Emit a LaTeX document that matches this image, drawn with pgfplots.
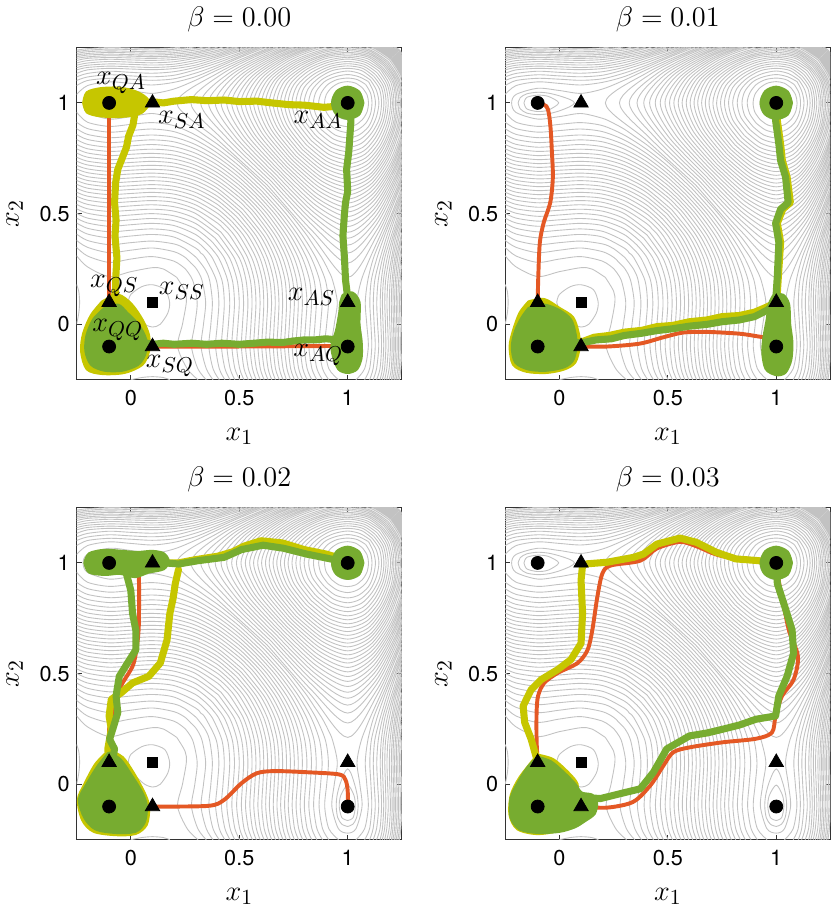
\documentclass[border=0pt]{standalone}
\usepackage{fontspec}
\usepackage{pgfplots}
\usepackage{pgfplotstable}
\pgfplotsset{compat=1.18}
\usepgfplotslibrary{groupplots}
\newfontfamily\heros{TeX Gyre Heros}
\definecolor{cor}{RGB}{228,88,36}
\definecolor{cyl}{RGB}{198,198,0}
\definecolor{cgr}{RGB}{119,172,48}
\pgfplotstableread{
x y
0.947 0.947
0.930 0.971
0.925 1
0.930 1.026
0.947 1.048
0.971 1.063
1 1.068
1.026 1.063
1.048 1.048
nan nan
0.925 0.925
0.901 0.959
0.893 1
0.901 1.037
0.925 1.068
0.959 1.089
1 1.096
1.037 1.089
1.068 1.068
nan nan
0.908 0.908
0.878 0.950
0.866 1
0.878 1.045
0.908 1.083
0.950 1.105
1 1.112
1.045 1.105
1.083 1.083
nan nan
0.893 0.893
0.855 0.942
0.842 1
0.855 1.052
0.893 1.096
0.942 1.118
1 1.128
1.052 1.118
1.096 1.096
nan nan
0.879 0.879
0.836 0.936
0.820 1
0.836 1.058
0.879 1.104
0.936 1.132
1 1.144
1.058 1.132
1.104 1.104
nan nan
0.866 0.866
0.818 0.929
0.799 1
0.818 1.064
0.866 1.112
0.929 1.146
1 1.156
1.064 1.146
1.112 1.112
nan nan
0.853 0.853
0.799 0.924
0.780 1
0.799 1.069
0.853 1.120
0.924 1.156
1 1.167
1.069 1.156
1.120 1.120
nan nan
0.842 0.842
0.783 0.919
0.761 1
0.783 1.074
0.842 1.128
0.919 1.165
1 1.177
1.074 1.165
1.128 1.128
nan nan
0.831 0.831
0.767 0.914
0.743 1
0.767 1.078
0.831 1.136
0.914 1.174
1 1.187
1.078 1.174
1.136 1.136
nan nan
0.820 0.820
0.751 0.909
0.725 1
0.751 1.082
0.820 1.144
0.909 1.183
1 1.198
1.082 1.183
1.144 1.144
nan nan
0.810 0.810
0.736 0.904
0.708 1
0.736 1.086
0.810 1.151
0.904 1.191
1 1.206
1.086 1.191
1.151 1.151
nan nan
0.799 0.799
0.721 0.899
0.690 1
0.721 1.090
0.799 1.156
0.899 1.200
1 1.213
1.090 1.200
1.156 1.156
nan nan
0.790 0.790
0.706 0.895
0.673 1
0.706 1.094
0.790 1.161
0.895 1.207
1 1.221
1.094 1.207
1.161 1.161
nan nan
0.780 0.780
0.691 0.891
0.656 1
0.691 1.097
0.780 1.167
0.891 1.213
1 1.228
1.097 1.213
1.167 1.167
nan nan
0.771 0.771
0.676 0.888
0.638 1
0.676 1.101
0.771 1.172
0.888 1.219
1 1.236
1.101 1.219
1.172 1.172
nan nan
0.761 0.761
0.661 0.884
0.621 1
0.661 1.101
0.761 1.177
0.884 1.226
1 1.243
1.101 1.226
1.177 1.177
nan nan
0.752 0.752
0.647 0.880
0.603 1
0.647 1.104
0.752 1.182
0.880 1.232
1 1.250
1.104 1.232
1.182 1.182
nan nan
0.743 0.743
0.632 0.876
0.585 1
0.632 1.106
0.743 1.187
0.876 1.238
1 1.256
1.106 1.238
1.187 1.187
nan nan
0.734 0.734
0.617 0.872
0.566 1
0.617 1.108
0.734 1.193
0.872 1.245
1 1.262
1.108 1.245
1.193 1.193
nan nan
0.725 0.725
0.602 0.868
0.548 1
0.602 1.111
0.725 1.198
0.868 1.251
1 1.267
1.111 1.251
1.198 1.198
nan nan
0.716 0.716
0.586 0.864
0.528 1
0.586 1.113
0.716 1.202
0.864 1.256
1 1.273
1.113 1.256
1.202 1.202
nan nan
0.708 0.708
0.570 0.860
0.508 1
0.570 1.115
0.708 1.206
0.860 1.260
1 1.278
1.115 1.260
1.206 1.206
nan nan
0.699 0.699
0.555 0.857
0.487 1
0.555 1.117
0.699 1.210
0.857 1.265
1 1.284
1.117 1.265
1.210 1.210
nan nan
0.690 0.690
0.538 0.853
0.465 1
0.538 1.120
0.690 1.213
0.853 1.270
1 1.290
1.120 1.270
1.213 1.213
nan nan
0.682 0.682
0.521 0.849
0.442 1
0.521 1.122
0.682 1.217
0.849 1.275
1 1.295
1.122 1.275
1.217 1.217
nan nan
0.673 0.673
0.504 0.846
0.416 1
0.504 1.124
0.673 1.221
0.846 1.280
1 1.301
1.124 1.280
1.221 1.221
nan nan
0.664 0.664
0.486 0.843
0.389 1
0.486 1.127
0.664 1.224
0.843 1.284
1 1.305
1.127 1.284
1.224 1.224
nan nan
0.656 0.656
0.467 0.840
0.358 1
0.467 1.129
0.656 1.228
0.840 1.289
1 1.310
1.129 1.289
1.228 1.228
nan nan
0.647 0.647
0.448 0.837
0.322 1
0.448 1.131
0.647 1.232
0.837 1.294
1 1.314
1.131 1.294
1.232 1.232
nan nan
0.638 0.638
0.426 0.833
0.277 1
0.426 1.134
0.638 1.236
0.833 1.299
1 1.318
1.134 1.299
1.236 1.236
nan nan
0.629 0.629
0.404 0.830
0.212 1
0.404 1.136
0.629 1.239
0.830 1.303
1 1.323
1.136 1.303
1.239 1.239
nan nan
-0.19 1
-0.18 1.024
-0.15 1.041
-0.1 1.048
-0.05 1.044
0 1.032
0.05 1.015
0.07 1
0.05 0.984
0 0.964
-0.05 0.951
-0.1 0.947
-0.15 0.954
-0.18 0.973
-0.19 1
nan nan
-0.163 1
-0.15 1.025
-0.1 1.035
-0.05 1.029
-0.003 1
-0.05 0.968
-0.1 0.961
-0.15 0.973
-0.163 1
nan nan
0.65 1.254
0.6 1.234
0.5 1.193
0.4 1.149
0.3 1.103
0.2 1.063
0.1 1.043
0 1.056
-0.1 1.066
-0.2 1.038
-0.22 1
-0.2 0.957
-0.1 0.927
0 0.938
0.1 0.952
0.2 0.930
0.25 0.908
0.3 0.881
0.35 0.847
0.4 0.813
0.45 0.774
0.5 0.733
0.55 0.688
0.6 0.641
0.621 0.621
nan nan
0.65 1.260
0.6 1.242
0.5 1.203
0.4 1.160
0.3 1.119
0.2 1.093
0.1 1.081
0 1.088
-0.1 1.095
-0.2 1.078
-0.25 1.038
nan nan
-0.25 0.958
-0.2 0.913
-0.1 0.894
0 0.903
0.1 0.911
0.2 0.897
0.3 0.854
0.4 0.792
0.5 0.715
0.6 0.624
0.612 0.612
nan nan
0.65 1.265
0.6 1.249
0.5 1.210
0.4 1.170
0.3 1.135
0.2 1.109
0.1 1.102
0 1.107
-0.1 1.111
-0.2 1.101
-0.25 1.078
nan nan
-0.25 0.913
-0.2 0.884
-0.1 0.868
0 0.875
0.1 0.882
0.2 0.870
0.3 0.832
0.4 0.773
0.5 0.697
0.603 0.603
nan nan
0.6 1.255
0.5 1.218
0.4 1.181
0.3 1.150
0.2 1.125
0.1 1.118
0 1.122
-0.1 1.127
-0.2 1.117
-0.25 1.101
nan nan
-0.25 0.884
-0.2 0.858
-0.1 0.843
0 0.849
0.1 0.855
0.2 0.845
0.3 0.811
0.4 0.755
0.5 0.680
0.594 0.594
nan nan
0.6 1.261
0.5 1.225
0.4 1.191
0.3 1.161
0.2 1.141
0.1 1.134
0 1.138
-0.1 1.143
-0.2 1.133
-0.25 1.117
nan nan
-0.25 0.858
-0.2 0.835
-0.1 0.821
0 0.827
0.1 0.833
0.2 0.824
0.3 0.791
0.4 0.737
0.5 0.663
0.585 0.585
nan nan
0.6 1.266
0.5 1.233
0.4 1.201
0.3 1.171
0.2 1.155
0.1 1.150
0 1.153
-0.1 1.156
-0.2 1.149
-0.25 1.133
nan nan
-0.25 0.835
-0.2 0.813
-0.1 0.800
0 0.806
0.1 0.812
0.2 0.802
0.3 0.772
0.4 0.719
0.5 0.645
0.576 0.576
nan nan
0.6 1.272
0.5 1.240
0.4 1.209
0.3 1.182
0.2 1.165
0.1 1.160
0 1.163
-0.1 1.166
-0.2 1.160
-0.25 1.149
nan nan
-0.25 0.813
-0.2 0.793
-0.1 0.781
0 0.786
0.1 0.791
0.2 0.783
0.3 0.753
0.4 0.701
0.5 0.628
0.566 0.566
nan nan
0.6 1.277
0.5 1.247
0.4 1.216
0.3 1.192
0.2 1.175
0.1 1.171
0 1.174
-0.1 1.176
-0.2 1.170
-0.25 1.159
nan nan
-0.25 0.793
-0.2 0.774
-0.1 0.762
0 0.768
0.1 0.772
0.2 0.764
0.3 0.735
0.4 0.684
0.5 0.610
0.557 0.557
nan nan
0.5 1.254
0.4 1.223
0.3 1.202
0.2 1.186
0.1 1.181
0 1.184
-0.1 1.187
-0.2 1.180
-0.25 1.170
nan nan
-0.25 0.774
-0.2 0.755
-0.1 0.744
0 0.749
0.1 0.754
0.2 0.746
0.3 0.718
0.4 0.667
0.5 0.592
0.548 0.548
nan nan
0.5 1.259
0.4 1.231
0.3 1.209
0.2 1.196
0.1 1.192
0 1.194
-0.1 1.197
-0.2 1.191
-0.25 1.180
nan nan
-0.25 0.755
-0.2 0.737
-0.1 0.726
0 0.731
0.1 0.736
0.2 0.728
0.3 0.700
0.4 0.649
0.5 0.574
0.538 0.538
nan nan
0.5 1.265
0.4 1.238
0.3 1.217
0.2 1.205
0.1 1.201
0 1.203
-0.1 1.205
-0.2 1.201
-0.25 1.191
nan nan
-0.25 0.737
-0.2 0.720
-0.1 0.709
0 0.714
0.1 0.718
0.2 0.711
0.3 0.683
0.4 0.632
0.5 0.556
0.528 0.528
nan nan
0.5 1.271
0.4 1.246
0.3 1.224
0.2 1.212
0.1 1.209
0 1.211
-0.1 1.213
-0.2 1.208
-0.25 1.201
nan nan
-0.25 0.718
-0.2 0.702
-0.1 0.691
0 0.696
0.1 0.700
0.2 0.693
0.3 0.665
0.4 0.614
0.518 0.518
nan nan
0.4 1.252
0.3 1.231
0.2 1.220
0.1 1.216
0 1.218
-0.1 1.220
-0.2 1.216
-0.25 1.208
nan nan
-0.25 0.702
-0.2 0.685
-0.1 0.674
0 0.679
0.1 0.683
0.2 0.675
0.3 0.648
0.4 0.597
0.508 0.508
nan nan
0.4 1.258
0.3 1.239
0.2 1.227
0.1 1.224
0 1.226
-0.1 1.228
-0.2 1.223
-0.25 1.216
nan nan
-0.25 0.685
-0.2 0.667
-0.1 0.657
0 0.661
0.1 0.666
0.2 0.658
0.3 0.630
0.4 0.578
0.498 0.498
nan nan
0.4 1.264
0.3 1.246
0.2 1.235
0.1 1.231
0 1.233
-0.1 1.235
-0.2 1.231
-0.25 1.223
nan nan
-0.25 0.667
-0.2 0.650
-0.1 0.639
0 0.644
0.1 0.649
0.2 0.641
0.3 0.613
0.4 0.560
0.487 0.487
nan nan
0.3 1.253
0.2 1.242
0.1 1.239
0 1.241
-0.1 1.243
-0.2 1.238
-0.25 1.231
nan nan
-0.25 0.650
-0.2 0.633
-0.1 0.622
0 0.626
0.1 0.631
0.2 0.623
0.3 0.595
0.4 0.541
0.476 0.476
nan nan
0.3 1.258
0.2 1.249
0.1 1.246
0 1.248
-0.1 1.250
-0.2 1.245
-0.25 1.238
nan nan
-0.25 0.633
-0.2 0.615
-0.1 0.604
0 0.609
0.1 0.613
0.2 0.606
0.3 0.577
0.4 0.521
0.465 0.465
nan nan
-0.25 0.615
-0.2 0.597
-0.1 0.586
0 0.591
0.1 0.596
0.2 0.588
0.3 0.558
0.4 0.501
0.454 0.454
nan nan
-0.25 0.597
-0.2 0.579
-0.1 0.567
0 0.572
0.1 0.577
0.2 0.569
0.3 0.539
0.4 0.479
0.442 0.442
nan nan
-0.25 0.579
-0.2 0.561
-0.1 0.549
0 0.554
0.1 0.559
0.2 0.551
0.3 0.519
0.4 0.457
0.429 0.429
nan nan
-0.25 0.561
-0.2 0.542
-0.1 0.529
0 0.535
0.1 0.540
0.2 0.531
0.3 0.500
0.416 0.416
nan nan
-0.25 0.542
-0.2 0.522
-0.1 0.510
0 0.515
0.1 0.520
0.2 0.511
0.3 0.477
0.404 0.404
nan nan
-0.25 0.522
-0.2 0.502
-0.1 0.488
0 0.494
0.1 0.500
0.2 0.490
0.3 0.455
0.389 0.389
nan nan
-0.25 0.502
-0.2 0.480
-0.1 0.466
0 0.472
0.1 0.478
0.2 0.468
0.3 0.431
0.374 0.374
nan nan
-0.25 0.480
-0.2 0.458
-0.1 0.443
0 0.450
0.1 0.456
0.2 0.446
0.3 0.405
0.358 0.358
nan nan
-0.25 0.458
-0.2 0.434
-0.1 0.418
0 0.425
0.1 0.431
0.2 0.420
0.3 0.376
0.341 0.341
nan nan
-0.25 0.434
-0.2 0.408
-0.1 0.391
0 0.399
0.1 0.406
0.2 0.394
0.3 0.344
0.322 0.322
nan nan
-0.25 0.408
-0.2 0.379
-0.1 0.360
0 0.369
0.1 0.376
0.2 0.363
0.25 0.342
0.302 0.302
nan nan
-0.25 0.379
-0.2 0.348
-0.1 0.324
0 0.335
0.1 0.345
0.2 0.328
0.25 0.303
0.277 0.277
nan nan
-0.25 0.348
-0.2 0.309
-0.1 0.280
0 0.295
0.1 0.306
0.2 0.285
0.251 0.251
nan nan
-0.25 0.310
-0.2 0.260
-0.1 0.216
0 0.238
0.1 0.256
0.15 0.250
0.212 0.212
nan nan
0 -0.25
0.05 -0.24
0.1 -0.236
0.15 -0.24
0.18 -0.25
nan nan
}\ctab
\newcommand{\contours}{%
\addplot[cline] table[x=x,y=y]{\ctab};
\addplot[cline] table[x=y,y=x]{\ctab};
\addplot[cline] coordinates {(-0.012,0.1) (0,0.135) (0.05,0.17) (0.1,0.179) (0.157,0.157) (0.179,0.1) (0.17,0.05) (0.135,0) (0.1,-0.012) (0.065,0) (0.03,0.03) (0,0.065) (-0.012,0.1)};
}
\newcommand{\markers}{%
\addplot[only marks, mark=*, mark size=3.3pt, black] coordinates {(-0.1,-0.1) (-0.1,1) (1,-0.1) (1,1)};
\addplot[only marks, mark=triangle*, mark size=4.2pt, black] coordinates {(-0.1,0.1) (0.1,-0.1) (0.1,1) (1,0.1)};
\addplot[only marks, mark=square*, mark size=2.5pt, black] coordinates {(0.1,0.1)};
}
\newcommand{\aablob}{%
\addplot[blob=cgr] coordinates {(1.068,1) (1.05,1.048) (1.0,1.069) (0.952,1.05) (0.932,1.0) (0.95,0.952) (1.0,0.932) (1.05,0.95) (1.068,1)} -- cycle;
}
\newcommand{\lab}[2]{\node[font=\fontsize{15}{17}\selectfont] at (axis cs:#1) {$#2$};}
\begin{document}%
\begin{tikzpicture}
\pgfplotsset{
 cline/.style={draw=black!24, line width=0.45pt, smooth, mark=none, unbounded coords=jump, forget plot},
 orng/.style={draw=cor, line width=2pt, mark=none, smooth, line join=round, line cap=round},
 ytr/.style={draw=cyl, line width=3.6pt, mark=none, line join=round, line cap=round},
 gtr/.style={draw=cgr, line width=3.6pt, mark=none, line join=round, line cap=round},
 blob/.style={draw=#1, fill=#1, line width=2pt, mark=none, smooth, line join=round},
}
\begin{groupplot}[
 group style={group size=2 by 2, horizontal sep=52.5pt, vertical sep=65pt},
 width=165.5pt, height=169pt, scale only axis,
 xmin=-0.25, xmax=1.25, ymin=-0.25, ymax=1.25,
 xtick={0,0.5,1}, ytick={0,0.5,1},
 major tick length=2.5pt, tick style={black!80, line width=0.5pt},
 axis line style={black!80, line width=0.5pt},
 /pgf/number format/assume math mode=true,
 tick label style={font=\heros\fontsize{11}{13}\selectfont},
 xticklabel style={yshift=-2pt},
 xlabel={$x_1$}, ylabel={$x_2$},
 label style={font=\fontsize{15}{17}\selectfont},
 xlabel style={at={(axis description cs:0.5,-0.17)}, anchor=center},
 ylabel style={at={(axis description cs:-0.19,0.5)}, anchor=center},
 title style={font=\fontsize{15}{17}\selectfont, at={(axis description cs:0.5,1.05)}, anchor=center},
 clip=true, clip bounding box=upper bound,
]
% ---------- beta = 0.00 ----------
\nextgroupplot[title={$\beta = 0.00$}]
\contours
\addplot[orng] coordinates {(-0.1,1) (-0.1,0.5) (-0.1,0.1) (-0.1,-0.1)};
\addplot[orng] coordinates {(0.1,-0.1) (0.5,-0.1) (1,-0.097)};
\addplot[blob=cyl] coordinates {(-0.215,1.0) (-0.2,1.045) (-0.14,1.062) (-0.06,1.065) (0.0,1.055) (0.04,1.04) (0.07,1.02) (0.08,0.995) (0.05,0.96) (0.0,0.945) (-0.08,0.94) (-0.15,0.945) (-0.2,0.96) (-0.215,1.0)} -- cycle;
\addplot[ytr] coordinates {(0.05,1.0) (0.1,1.005) (0.15,1.0) (0.2,1.008) (0.28,1.015) (0.35,1.01) (0.43,1.013) (0.5,1.006) (0.58,1.008) (0.65,1.0) (0.73,0.992) (0.8,0.99) (0.89,0.98) (0.95,0.985) (1.0,1.0)};
\addplot[ytr] coordinates {(0.02,0.96) (0.01,0.9) (-0.01,0.85) (-0.02,0.8) (-0.04,0.75) (-0.06,0.7) (-0.07,0.64) (-0.075,0.55) (-0.068,0.47) (-0.073,0.4) (-0.064,0.3) (-0.069,0.22) (-0.07,0.15) (-0.085,0.1) (-0.1,0.05)};
\addplot[blob=cyl] coordinates {(-0.13,0.1) (-0.06,0.13) (0.0,0.09) (0.05,0.02) (0.08,-0.05) (0.08,-0.12) (0.05,-0.18) (-0.03,-0.215) (-0.13,-0.22) (-0.2,-0.2) (-0.225,-0.12) (-0.215,-0.04) (-0.18,0.04) (-0.13,0.1)} -- cycle;
\addplot[blob=cgr] coordinates {(-0.12,0.07) (-0.06,0.085) (-0.02,0.05) (0.03,0.0) (0.06,-0.05) (0.07,-0.09) (0.06,-0.14) (0.03,-0.18) (-0.04,-0.205) (-0.12,-0.205) (-0.18,-0.18) (-0.205,-0.12) (-0.2,-0.05) (-0.17,0.02) (-0.12,0.07)} -- cycle;
\addplot[gtr] coordinates {(0.05,-0.08) (0.1,-0.09) (0.15,-0.085) (0.2,-0.09) (0.28,-0.085) (0.35,-0.09) (0.42,-0.085) (0.5,-0.09) (0.57,-0.085) (0.63,-0.08) (0.7,-0.082) (0.75,-0.075) (0.8,-0.07) (0.85,-0.07) (0.9,-0.065) (0.95,-0.07) (1.0,-0.08)};
\addplot[blob=cgr] coordinates {(0.98,0.13) (1.02,0.14) (1.05,0.1) (1.05,0.0) (1.06,-0.08) (1.06,-0.15) (1.04,-0.2) (1.0,-0.215) (0.96,-0.2) (0.935,-0.14) (0.93,-0.09) (0.95,-0.03) (0.965,0.05) (0.97,0.1) (0.98,0.13)} -- cycle;
\addplot[gtr] coordinates {(1.0,0.12) (0.99,0.2) (0.985,0.3) (0.978,0.4) (0.985,0.5) (0.99,0.55) (1.0,0.6) (0.995,0.7) (1.005,0.78) (1.01,0.85) (1.015,0.92) (1.0,0.98)};
\aablob
\markers
\lab{-0.045,1.09}{x_{QA}}
\lab{0.235,0.925}{x_{SA}}
\lab{0.864,0.925}{x_{AA}}
\lab{-0.076,0.174}{x_{QS}}
\lab{0.235,0.152}{x_{SS}}
\lab{0.833,0.122}{x_{AS}}
\lab{-0.06,-0.027}{x_{QQ}}
\lab{0.18,-0.19}{x_{SQ}}
\lab{0.864,-0.138}{x_{AQ}}
% ---------- beta = 0.01 ----------
\nextgroupplot[title={$\beta = 0.01$}]
\contours
\addplot[orng] coordinates {(-0.1,1) (-0.06,0.985) (-0.048,0.95) (-0.04,0.88) (-0.035,0.79) (-0.03,0.665) (-0.042,0.55) (-0.072,0.46) (-0.09,0.37) (-0.097,0.22) (-0.1,0.1)};
\addplot[orng] coordinates {(0.1,-0.1) (0.22,-0.1) (0.37,-0.087) (0.48,-0.058) (0.57,-0.037) (0.68,-0.034) (0.83,-0.042) (0.92,-0.055) (0.97,-0.062)};
\addplot[blob=cyl] coordinates {(-0.14,0.1) (-0.07,0.11) (0.0,0.07) (0.06,0.03) (0.085,-0.04) (0.09,-0.1) (0.07,-0.17) (0.02,-0.2) (-0.06,-0.215) (-0.15,-0.21) (-0.21,-0.18) (-0.225,-0.1) (-0.21,-0.03) (-0.18,0.05) (-0.14,0.1)} -- cycle;
\addplot[ytr] coordinates {(0.1,-0.08) (0.16,-0.058) (0.23,-0.05) (0.3,-0.035) (0.38,-0.027) (0.45,-0.01) (0.52,-0.005) (0.6,0.012) (0.68,0.02) (0.75,0.035) (0.83,0.04) (0.9,0.055) (0.96,0.08) (1.0,0.1)};
\addplot[ytr] coordinates {(1.0,0.1) (1.005,0.144) (1.01,0.22) (1.02,0.37) (1.005,0.457) (1.03,0.52) (1.065,0.55) (1.05,0.665) (1.028,0.74) (1.02,0.814) (1.005,0.92) (1,1)};
\addplot[blob=cgr] coordinates {(-0.14,0.07) (-0.07,0.085) (0.0,0.06) (0.05,0.02) (0.07,-0.04) (0.075,-0.1) (0.06,-0.16) (0.02,-0.19) (-0.06,-0.205) (-0.14,-0.2) (-0.2,-0.17) (-0.215,-0.1) (-0.2,-0.03) (-0.17,0.03) (-0.14,0.07)} -- cycle;
\addplot[gtr] coordinates {(0.06,-0.085) (0.12,-0.08) (0.17,-0.07) (0.24,-0.065) (0.3,-0.05) (0.38,-0.04) (0.45,-0.028) (0.52,-0.02) (0.6,-0.008) (0.68,0.0) (0.75,0.012) (0.83,0.02) (0.9,0.035) (0.96,0.065) (1.0,0.1)};
\addplot[blob=cgr] coordinates {(0.99,0.13) (1.03,0.13) (1.055,0.09) (1.06,0.0) (1.07,-0.08) (1.065,-0.16) (1.04,-0.215) (1.0,-0.225) (0.955,-0.2) (0.94,-0.13) (0.945,-0.06) (0.96,0.02) (0.97,0.09) (0.99,0.13)} -- cycle;
\addplot[gtr] coordinates {(1.0,0.1) (1.0,0.144) (1.005,0.22) (1.012,0.37) (0.997,0.457) (1.02,0.52) (1.055,0.55) (1.043,0.665) (1.02,0.74) (1.012,0.814) (0.997,0.92) (1,1)};
\aablob
\markers
% ---------- beta = 0.02 ----------
\nextgroupplot[title={$\beta = 0.02$}]
\contours
\addplot[orng] coordinates {(0.035,0.98) (0.038,0.9) (0.038,0.8) (0.036,0.697) (0.026,0.607) (0.008,0.533) (-0.038,0.458) (-0.068,0.4) (-0.09,0.3) (-0.1,0.25) (-0.1,0.1)};
\addplot[orng] coordinates {(0.1,-0.1) (0.356,-0.097) (0.43,-0.07) (0.51,0.005) (0.58,0.05) (0.66,0.06) (0.81,0.055) (0.96,0.045) (0.99,0.02) (1.0,-0.03) (1.0,-0.1)};
\addplot[ytr] coordinates {(0.22,0.97) (0.205,0.906) (0.195,0.84) (0.18,0.772) (0.167,0.652) (0.136,0.548) (0.083,0.488) (0.008,0.458) (-0.045,0.413) (-0.09,0.384) (-0.1,0.309) (-0.09,0.249) (-0.106,0.16) (-0.1,0.08)};
\addplot[ytr] coordinates {(0.16,1.0) (0.22,1.0) (0.3,1.015) (0.4,1.03) (0.47,1.05) (0.52,1.075) (0.6,1.1) (0.7,1.09) (0.8,1.06) (0.9,1.04) (0.97,1.02)};
\addplot[blob=cyl] coordinates {(-0.1,0.15) (-0.04,0.12) (0.01,0.05) (0.06,-0.04) (0.08,-0.1) (0.07,-0.18) (0.02,-0.22) (-0.07,-0.225) (-0.17,-0.21) (-0.22,-0.16) (-0.24,-0.07) (-0.21,0.0) (-0.16,0.09) (-0.1,0.15)} -- cycle;
\addplot[blob=cgr] coordinates {(-0.1,0.14) (-0.05,0.11) (0.0,0.04) (0.05,-0.04) (0.07,-0.1) (0.06,-0.17) (0.02,-0.21) (-0.07,-0.215) (-0.16,-0.2) (-0.21,-0.15) (-0.235,-0.07) (-0.2,0.0) (-0.15,0.08) (-0.1,0.14)} -- cycle;
\addplot[blob=cgr] coordinates {(-0.21,1.0) (-0.19,1.04) (-0.12,1.055) (-0.04,1.05) (0.03,1.045) (0.1,1.05) (0.15,1.04) (0.17,1.01) (0.15,0.975) (0.08,0.96) (0.02,0.94) (-0.05,0.955) (-0.12,0.95) (-0.19,0.96) (-0.21,1.0)} -- cycle;
\addplot[gtr] coordinates {(-0.02,0.95) (0.0,0.876) (0.008,0.772) (0.023,0.697) (0.023,0.607) (-0.015,0.548) (-0.053,0.488) (-0.068,0.4) (-0.06,0.324) (-0.083,0.25) (-0.098,0.204) (-0.075,0.16) (-0.083,0.115) (-0.09,0.05)};
\addplot[gtr] coordinates {(0.16,1.0) (0.22,0.995) (0.31,1.01) (0.43,1.025) (0.51,1.06) (0.61,1.08) (0.705,1.066) (0.81,1.04) (0.886,1.025) (0.96,1.01) (1,1)};
\aablob
\markers
% ---------- beta = 0.03 ----------
\nextgroupplot[title={$\beta = 0.03$}]
\contours
\addplot[orng] coordinates {(-0.1,0.1) (-0.105,0.2) (-0.105,0.324) (-0.098,0.4) (-0.07,0.458) (-0.008,0.503) (0.084,0.548) (0.13,0.607) (0.152,0.697) (0.175,0.846) (0.198,0.951) (0.236,0.988) (0.373,1.01) (0.449,1.065) (0.556,1.095) (0.632,1.075) (0.723,1.038) (0.83,1.015) (0.92,1.008) (1,1)};
\addplot[orng] coordinates {(1,1) (1.015,0.9) (1.027,0.846) (1.058,0.697) (1.1,0.578) (1.08,0.473) (1.027,0.4) (0.997,0.309) (0.98,0.234) (0.906,0.206) (0.753,0.19) (0.6,0.167) (0.525,0.145) (0.48,0.085) (0.42,-0.004) (0.34,-0.079) (0.22,-0.105) (0.1,-0.1)};
\addplot[ytr] coordinates {(-0.1,0.1) (-0.13,0.204) (-0.16,0.28) (-0.167,0.354) (-0.13,0.428) (-0.084,0.473) (-0.008,0.518) (0.053,0.563) (0.1,0.637) (0.107,0.772) (0.1,0.921) (0.107,0.99) (0.13,0.996) (0.22,1.003) (0.342,1.025) (0.388,1.04) (0.45,1.085) (0.556,1.112) (0.632,1.093) (0.723,1.048) (0.814,1.018) (0.92,1.01) (0.97,1.0)};
\addplot[blob=cyl] coordinates {(-0.1,0.13) (-0.03,0.11) (0.04,0.05) (0.08,0.0) (0.07,-0.05) (0.05,-0.12) (0.0,-0.2) (-0.1,-0.22) (-0.19,-0.2) (-0.225,-0.14) (-0.22,-0.05) (-0.18,0.03) (-0.1,0.13)} -- cycle;
\addplot[blob=cgr] coordinates {(-0.1,0.12) (-0.04,0.1) (0.02,0.05) (0.07,0.0) (0.1,-0.04) (0.15,-0.05) (0.17,-0.08) (0.16,-0.13) (0.12,-0.16) (0.07,-0.19) (0.0,-0.21) (-0.1,-0.215) (-0.18,-0.2) (-0.22,-0.15) (-0.22,-0.06) (-0.18,0.02) (-0.14,0.08) (-0.1,0.12)} -- cycle;
\addplot[gtr] coordinates {(0.13,-0.06) (0.19,-0.064) (0.28,-0.042) (0.373,-0.02) (0.434,0.055) (0.495,0.16) (0.6,0.219) (0.68,0.232) (0.753,0.249) (0.83,0.268) (0.906,0.294) (0.997,0.309) (1.012,0.4) (1.05,0.488) (1.08,0.592) (1.073,0.697) (1.035,0.816) (1.005,0.906) (1,1)};
\aablob
\markers
\end{groupplot}
\end{tikzpicture}%
\end{document}
